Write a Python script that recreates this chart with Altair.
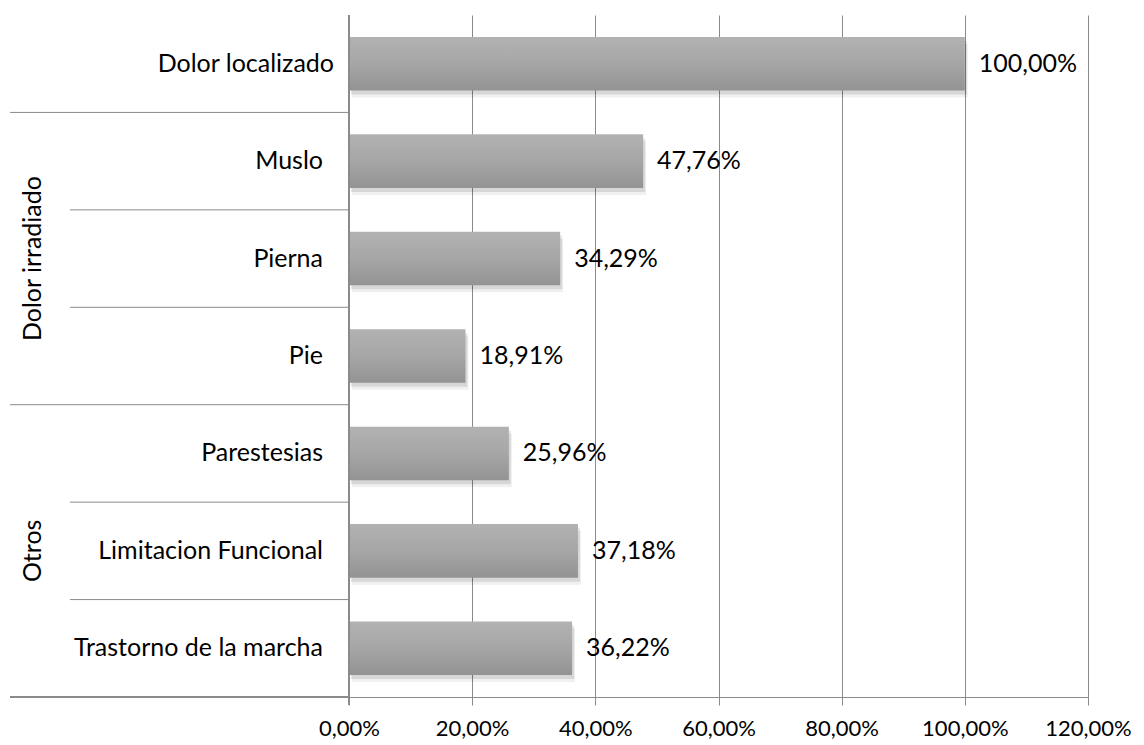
import altair as alt
import pandas as pd

# Symptom categories (top to bottom), their parent group and the share of patients (%)
categories = [
    "Dolor localizado",
    "Muslo",
    "Pierna",
    "Pie",
    "Parestesias",
    "Limitacion Funcional",
    "Trastorno de la marcha",
]
groups = ["", "Dolor irradiado", "Dolor irradiado", "Dolor irradiado", "Otros", "Otros", "Otros"]
values = [100.00, 47.76, 34.29, 18.91, 25.96, 37.18, 36.22]
x_ticks = [0, 20, 40, 60, 80, 100, 120]

FONT = "Lato"
FS = 25
GRID = "#8a8a8a"

df = pd.DataFrame({"cat": categories, "grp": groups, "v": values})
df["start"] = [i == 0 or groups[i] != groups[i - 1] for i in range(len(groups))]

y_scale = alt.Scale(domain=categories, paddingInner=0, paddingOuter=0)
Y = alt.Y("cat:N", scale=y_scale, axis=None)
x_scale = alt.Scale(domain=[0, 120], nice=False)

base = alt.Chart(df)

# soft drop shadow under each bar
shadow1 = base.mark_bar(color="black", opacity=0.06, xOffset=3, yOffset=7,
                        height={"band": 0.55}).encode(
    x=alt.X("v:Q", scale=x_scale), y=Y)
shadow2 = base.mark_bar(color="black", opacity=0.10, xOffset=2, yOffset=4,
                        height={"band": 0.55}).encode(
    x=alt.X("v:Q", scale=x_scale), y=Y)

bars = base.mark_bar(
    height={"band": 0.55},
    color=alt.Gradient(
        gradient="linear", x1=0, x2=0, y1=0, y2=1,
        stops=[alt.GradientStop(color="#b2b2b2", offset=0),
               alt.GradientStop(color="#a6a6a6", offset=0.5),
               alt.GradientStop(color="#939393", offset=1)],
    ),
).encode(
    x=alt.X(
        "v:Q", scale=x_scale,
        axis=alt.Axis(
            values=x_ticks, title=None, grid=True, gridColor=GRID, gridWidth=1,
            domainColor=GRID, tickColor=GRID, tickSize=8, labelPadding=13,
            labelFlush=False, labelOverlap=False,
            labelFont=FONT, labelFontSize=22, labelColor="black",
            labelExpr="replace(format(datum.value, '.2f'), '.', ',') + '%'",
        ),
    ),
    y=Y,
)

value_labels = base.mark_text(align="left", baseline="middle", dx=14,
                              font=FONT, fontSize=FS, color="black").encode(
    x=alt.X("v:Q", scale=x_scale), y=Y,
    text=alt.Text("lbl:N"),
).transform_calculate(lbl="replace(format(datum.v, '.2f'), '.', ',') + '%'")

top_label = base.transform_filter("datum.grp == ''").mark_text(
    align="right", baseline="middle", font=FONT, fontSize=FS, color="black", clip=False
).encode(x=alt.value(-15), y=Y, text="cat:N")

sub_labels = base.transform_filter("datum.grp != ''").mark_text(
    align="right", baseline="middle", font=FONT, fontSize=FS, color="black", clip=False
).encode(x=alt.value(-26), y=Y, text="cat:N")

# Parent group labels, centred on the middle member of each group
grp_df = df[df["grp"] != ""].groupby("grp", sort=False)["cat"].apply(
    lambda s: s.iloc[len(s) // 2]).reset_index()
group_labels = alt.Chart(grp_df).mark_text(
    angle=270, align="center", baseline="middle", font=FONT, fontSize=FS,
    color="black", clip=False
).encode(x=alt.value(-316), y=Y, text="grp:N")

# Separator lines of the two-level category axis
long_sep = base.transform_filter("datum.start && datum.grp != ''").mark_rule(
    color=GRID, strokeWidth=1).encode(
    x=alt.value(-339), x2=alt.value(0),
    y=alt.Y("cat:N", scale=y_scale, axis=None, bandPosition=0))
short_sep = base.transform_filter("!datum.start").mark_rule(
    color=GRID, strokeWidth=1).encode(
    x=alt.value(-279), x2=alt.value(0),
    y=alt.Y("cat:N", scale=y_scale, axis=None, bandPosition=0))
bottom_sep = base.mark_rule(color=GRID, strokeWidth=1).encode(
    x=alt.value(-339), x2=alt.value(0), y=alt.value(682))
y_axis_line = base.mark_rule(color=GRID, strokeWidth=1).encode(
    x=alt.value(0), y=alt.value(0), y2=alt.value(690))

chart = alt.layer(
    shadow1, shadow2, bars, value_labels, top_label, sub_labels, group_labels,
    long_sep, short_sep, bottom_sep, y_axis_line,
).properties(
    width=739, height=682,
    padding={"left": 349, "top": 15, "right": 56, "bottom": 48},
    autosize="none",
    background="white",
).configure_view(stroke=None)

chart.save("out.html", embed_options={"renderer": "svg", "actions": False})
